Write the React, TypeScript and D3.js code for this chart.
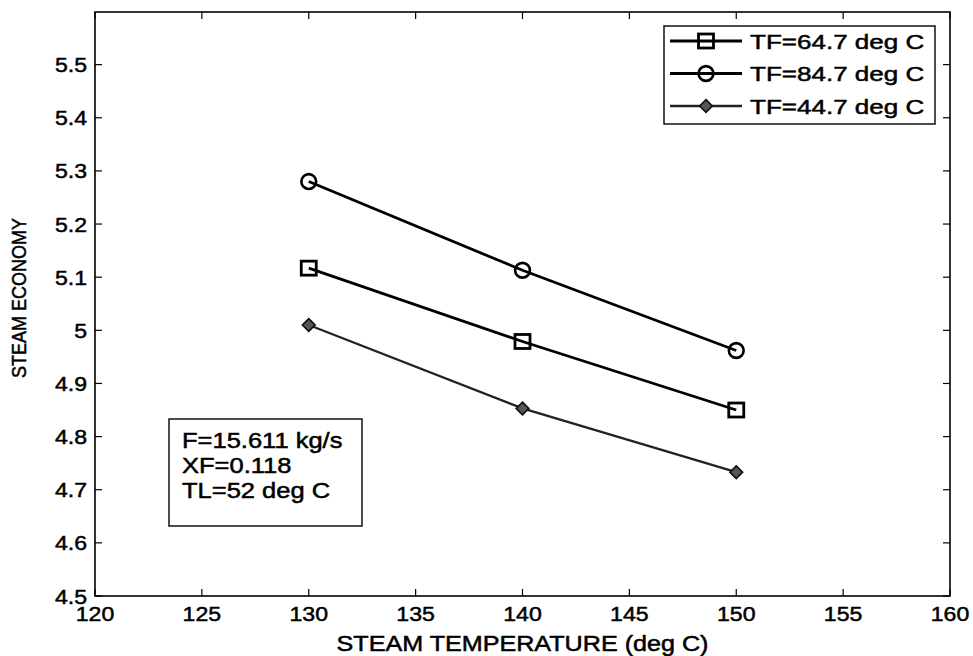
import React from "react";
import * as d3 from "d3";

const temps = [130, 140, 150];
const tf647 = [5.117, 4.979, 4.85];
const tf847 = [5.28, 5.113, 4.962];
const tf447 = [5.01, 4.853, 4.733];
const xTicks = [120, 125, 130, 135, 140, 145, 150, 155, 160];
const yTicks = [4.5, 4.6, 4.7, 4.8, 4.9, 5.0, 5.1, 5.2, 5.3, 5.4, 5.5];
const legendLabels = ["TF=64.7 deg C", "TF=84.7 deg C", "TF=44.7 deg C"];
const noteLines = ["F=15.611 kg/s", "XF=0.118", "TL=52 deg C"];
const xTitle = "STEAM TEMPERATURE (deg C)";
const yTitle = "STEAM ECONOMY";

const W = 973;
const H = 656;
const FONT = "'Liberation Sans', Arial, Helvetica, sans-serif";

type MarkerKind = "square" | "circle" | "diamond";

function Marker({ kind, cx, cy }: { kind: MarkerKind; cx: number; cy: number }) {
  if (kind === "square") {
    return <rect x={cx - 7.5} y={cy - 7} width={15} height={14} fill="none" stroke="#000" strokeWidth={2.8} />;
  }
  if (kind === "circle") {
    return <circle cx={cx} cy={cy} r={7.4} fill="none" stroke="#000" strokeWidth={2.6} />;
  }
  const s = 6.3;
  return (
    <path
      d={`M${cx},${cy - s}L${cx + s},${cy}L${cx},${cy + s}L${cx - s},${cy}Z`}
      fill="#555"
      stroke="#111"
      strokeWidth={1.7}
    />
  );
}

function SText({
  x,
  y,
  children,
  anchor = "start",
  size = 21,
  sx = 1.15,
}: {
  x: number;
  y: number;
  children: React.ReactNode;
  anchor?: string;
  size?: number;
  sx?: number;
}) {
  return (
    <g transform={`translate(${x},${y}) scale(${sx},1)`}>
      <text textAnchor={anchor as any} fontFamily={FONT} fontSize={size} fill="#000" stroke="#000" strokeWidth={0.5}>
        {children}
      </text>
    </g>
  );
}

export default function App() {
  const x = d3.scaleLinear().domain([120, 160]).range([95, 950]);
  const y = d3.scaleLinear().domain([4.5, 5.6]).range([596, 11.5]);
  const left = x(120);
  const right = x(160);
  const top = 12;
  const bottom = y(4.5);

  const series: { vals: number[]; kind: MarkerKind; width: number; color: string }[] = [
    { vals: tf647, kind: "square", width: 2.8, color: "#000" },
    { vals: tf847, kind: "circle", width: 2.8, color: "#000" },
    { vals: tf447, kind: "diamond", width: 2.3, color: "#222" },
  ];

  const line = d3
    .line<number>()
    .x((_, i) => x(temps[i]))
    .y((d) => y(d));

  const fmtY = (v: number) => d3.format("")(Math.round(v * 10) / 10);

  const legL = 664;
  const legR = 935;
  const legT = 26;
  const legB = 124;
  const legRows = [41, 73.5, 106];

  return (
    <svg width={W} height={H} style={{ position: "absolute", left: 0, top: 0, background: "#fff" }}>
      <rect x={0} y={0} width={W} height={H} fill="#fff" />
      {/* axes box */}
      <rect x={left} y={top} width={right - left} height={bottom - top} fill="none" stroke="#000" strokeWidth={1.6} />
      {/* x ticks */}
      {xTicks.map((t) => (
        <g key={"xt" + t}>
          <line x1={x(t)} x2={x(t)} y1={bottom} y2={bottom - 7} stroke="#000" strokeWidth={1.2} />
          <line x1={x(t)} x2={x(t)} y1={top} y2={top + 7} stroke="#000" strokeWidth={1.2} />
          <SText x={x(t)} y={621} anchor="middle" size={21} sx={1.1}>
            {String(t)}
          </SText>
        </g>
      ))}
      {/* y ticks */}
      {yTicks.map((t) => (
        <g key={"yt" + t}>
          <line x1={left} x2={left + 7} y1={y(t)} y2={y(t)} stroke="#000" strokeWidth={1.2} />
          <line x1={right} x2={right - 7} y1={y(t)} y2={y(t)} stroke="#000" strokeWidth={1.2} />
          <SText x={87} y={y(t) + 7.5} anchor="end" size={21} sx={1.1}>
            {fmtY(t)}
          </SText>
        </g>
      ))}
      {/* axis titles */}
      <SText x={(left + right) / 2} y={651} anchor="middle" size={21.5} sx={1.17}>
        {xTitle}
      </SText>
      <g transform={`translate(25.5,${(top + bottom) / 2 - 6}) rotate(-90) scale(1,1.12)`}>
        <text textAnchor="middle" fontFamily={FONT} fontSize={18} fill="#000" stroke="#000" strokeWidth={0.45}>
          {yTitle}
        </text>
      </g>
      {/* series */}
      {series.map((s, si) => (
        <g key={"s" + si}>
          <path d={line(s.vals) || ""} fill="none" stroke={s.color} strokeWidth={s.width} />
          {s.vals.map((v, i) => (
            <Marker key={i} kind={s.kind} cx={x(temps[i])} cy={y(v)} />
          ))}
        </g>
      ))}
      {/* legend */}
      <rect x={legL} y={legT} width={legR - legL} height={legB - legT} fill="#fff" stroke="#000" strokeWidth={1.4} />
      {series.map((s, i) => (
        <g key={"lg" + i}>
          <line x1={670} x2={742} y1={legRows[i]} y2={legRows[i]} stroke={s.color} strokeWidth={s.width} />
          <Marker kind={s.kind} cx={706} cy={legRows[i]} />
          <SText x={750} y={legRows[i] + 7.5} size={21} sx={1.24}>
            {legendLabels[i]}
          </SText>
        </g>
      ))}
      {/* annotation box */}
      <rect x={169} y={419} width={193} height={107} fill="#fff" stroke="#000" strokeWidth={1.4} />
      {noteLines.map((t, i) => (
        <SText key={"n" + i} x={182} y={448 + i * 25} size={22} sx={1.16}>
          {t}
        </SText>
      ))}
    </svg>
  );
}
